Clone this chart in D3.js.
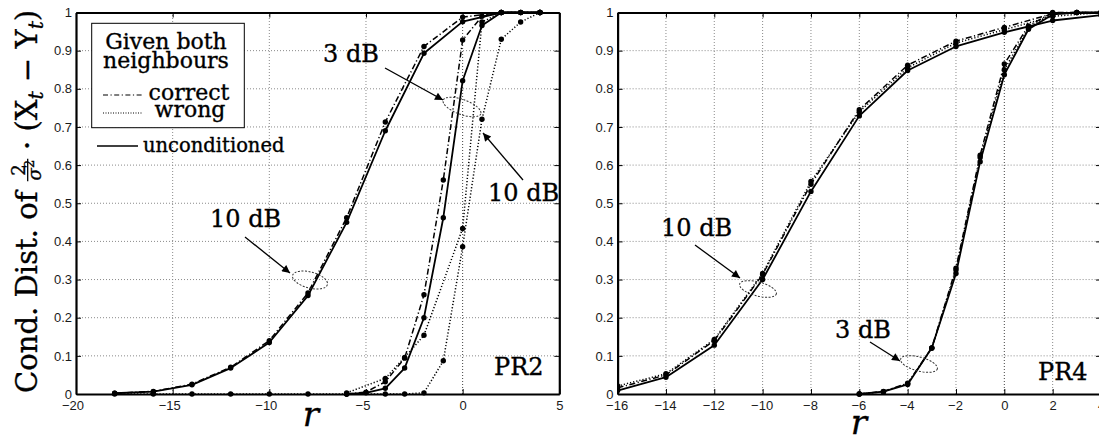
<!DOCTYPE html>
<html><head><meta charset="utf-8">
<script src="https://cdn.jsdelivr.net/npm/d3@7"></script>
<style>html,body{margin:0;padding:0;background:#fff;} svg{display:block}</style>
</head><body>
<svg id="c" width="1099" height="441"></svg>
<script>
// ---------- data ----------
const yTicks = [0, 0.1, 0.2, 0.3, 0.4, 0.5, 0.6, 0.7, 0.8, 0.9, 1];
const yTickLabels = ["0", "0.1", "0.2", "0.3", "0.4", "0.5", "0.6", "0.7", "0.8", "0.9", "1"];
const pr2XTicks = [-20, -15, -10, -5, 0, 5];
const pr4XTicks = [-16, -14, -12, -10, -8, -6, -4, -2, 0, 2, 4];

// PR2, 10 dB
const pr2_10_x = [-18, -16, -14, -12, -10, -8, -6, -4, -2, 0, 2, 4];
const pr2_10_uncond = [0.002, 0.006, 0.024, 0.068, 0.135, 0.258, 0.45, 0.69, 0.893, 0.976, 1.0, 1.0];
const pr2_10_correct = [0.002, 0.007, 0.026, 0.070, 0.140, 0.265, 0.462, 0.713, 0.911, 0.988, 1.0, 1.0];
const pr2_10_wrong_x = [-18, -16, -14, -12, -10, -8, -6, -4, -3, -2, -1, 0, 1, 2, 3, 4];
const pr2_10_wrong = [0, 0, 0, 0, 0, 0, 0, 0, 0, 0.003, 0.087, 0.386, 0.72, 0.93, 0.975, 1.0];
// PR2, 3 dB
const pr2_3_x = [-6, -5, -4, -3, -2, -1, 0, 1, 2, 3, 4];
const pr2_3_uncond = [0, 0.003, 0.015, 0.068, 0.20, 0.462, 0.821, 0.966, 1.0, 1.0, 1.0];
const pr2_3_correct = [0, 0.005, 0.032, 0.094, 0.26, 0.561, 0.928, 0.99, 1.0, 1.0, 1.0];
const pr2_3_wrong_x = [-6, -4, -3, -2, 0, 1, 2, 3, 4];
const pr2_3_wrong = [0.003, 0.041, 0.096, 0.154, 0.434, 0.975, 1.0, 1.0, 1.0];

// PR4, 10 dB
const pr4_10_x = [-16, -14, -12, -10, -8, -6, -4, -2, 0, 2, 4];
const pr4_10_uncond = [0.009, 0.044, 0.128, 0.30, 0.531, 0.729, 0.848, 0.911, 0.948, 0.979, 0.993];
const pr4_10_correct = [0.016, 0.05, 0.14, 0.313, 0.55, 0.745, 0.862, 0.925, 0.961, 0.997, 1.0];
const pr4_10_wrong = [0.021, 0.053, 0.143, 0.316, 0.557, 0.74, 0.855, 0.92, 0.955, 0.99, 1.0];
// PR4, 3 dB
const pr4_3_x = [-6, -5, -4, -3, -2, -1, 0, 1, 2, 3, 4];
const pr4_3_uncond = [0, 0.006, 0.025, 0.121, 0.316, 0.609, 0.837, 0.956, 0.995, 1.0, 1.0];
const pr4_3_correct = [0, 0.007, 0.028, 0.121, 0.33, 0.626, 0.865, 0.965, 1.0, 1.0, 1.0];
const pr4_3_wrong = [0, 0.006, 0.027, 0.12, 0.325, 0.62, 0.85, 0.96, 0.998, 1.0, 1.0];

const legendTitle = ["Given both", "neighbours"];
const legendItems = ["correct", "wrong", "unconditioned"];

// ---------- drawing ----------
const svg = d3.select("#c");
svg.append("rect").attr("width", 1099).attr("height", 441).attr("fill", "#fff");
const defs = svg.append("defs");
defs.append("marker").attr("id", "ah").attr("viewBox", "0 0 10 10").attr("refX", 10).attr("refY", 5)
  .attr("markerWidth", 11).attr("markerHeight", 8).attr("markerUnits", "userSpaceOnUse")
  .attr("orient", "auto").append("path").attr("d", "M0,0 L10,5 L0,10 z").attr("fill", "#000");

const SERIF = "'DejaVu Serif', serif";
const SANS = "'Liberation Sans', Arial, sans-serif";
const TXT_STROKE = 0.35;
const yTop = 12.5, yBot = 394;
const y = d3.scaleLinear().domain([0, 1]).range([yBot, yTop]);

const STY = {
  solid: { dash: null, w: 1.8 },
  dashdot: { dash: "6,2.5,1.2,2.5", w: 1.5 },
  dotted: { dash: "1.2,2", w: 1.5 }
};

function zip(xs, ys) { return xs.map((v, i) => [v, ys[i]]); }
function heavy(sel) { return sel.attr("stroke", "#000").attr("stroke-width", TXT_STROKE); }

function drawPanel(cfg) {
  const x = d3.scaleLinear().domain(cfg.domain).range([cfg.x0, cfg.x1]);
  const g = svg.append("g");
  const clipId = "clip" + cfg.id;
  defs.append("clipPath").attr("id", clipId).append("rect")
    .attr("x", cfg.x0).attr("y", yTop - 4).attr("width", cfg.x1 - cfg.x0).attr("height", yBot - yTop + 8);

  // grid
  const grid = g.append("g").attr("stroke", "#8a8a8a").attr("stroke-width", 1).attr("stroke-dasharray", "1,2");
  cfg.ticks.filter(t => t !== cfg.domain[0] && t !== cfg.domain[1]).forEach(t => {
    grid.append("line").attr("x1", x(t)).attr("x2", x(t)).attr("y1", yBot).attr("y2", yTop)
      .attr("stroke", t === 0 ? "#444" : null);
  });
  yTicks.filter(t => t !== 0 && t !== 1).forEach(t => {
    grid.append("line").attr("x1", cfg.x0).attr("x2", cfg.x1).attr("y1", y(t)).attr("y2", y(t));
  });

  // curves
  const line = d3.line().x(d => x(d[0])).y(d => y(d[1]));
  const cg = g.append("g").attr("clip-path", `url(#${clipId})`);
  const order = ["dotted", "dashdot", "solid"];
  order.forEach(st => {
    cfg.series.filter(s => s.style === st).forEach(s => {
      cg.append("path").datum(zip(s.x, s.y)).attr("d", line).attr("fill", "none")
        .attr("stroke", "#000").attr("stroke-width", STY[st].w)
        .attr("stroke-dasharray", STY[st].dash).attr("stroke-linejoin", "round");
    });
  });
  cfg.series.forEach(s => {
    cg.selectAll(null).data(zip(s.x, s.y)).enter().append("circle")
      .attr("cx", d => x(d[0])).attr("cy", d => y(d[1])).attr("r", 2.7).attr("fill", "#000");
  });

  // axes
  const fmtX = d => (d < 0 ? "\u2212" + Math.abs(d) : String(d));
  const ax = g.append("g").attr("transform", `translate(0,${yBot})`)
    .call(d3.axisBottom(x).tickValues(cfg.ticks).tickFormat(fmtX).tickSizeInner(-5).tickSizeOuter(0).tickPadding(7));
  ax.selectAll("text").attr("dx", d => (d < 0 ? cfg.negShift : 0));
  const at = g.append("g").attr("transform", `translate(0,${yTop})`)
    .call(d3.axisTop(x).tickValues(cfg.ticks).tickFormat("").tickSizeInner(-5).tickSizeOuter(0));
  const al = g.append("g").attr("transform", `translate(${cfg.x0},0)`)
    .call(d3.axisLeft(y).tickValues(yTicks).tickFormat((d, i) => yTickLabels[i]).tickSizeInner(-5).tickSizeOuter(0).tickPadding(4));
  const ar = g.append("g").attr("transform", `translate(${cfg.x1},0)`)
    .call(d3.axisRight(y).tickValues(yTicks).tickFormat("").tickSizeInner(-5).tickSizeOuter(0));
  [ax, at, al, ar].forEach(a => {
    a.attr("font-family", SANS).attr("font-size", 13);
    a.select(".domain").attr("stroke-width", 2.2).attr("stroke", "#000");
    a.selectAll(".tick line").attr("stroke", "#000").attr("stroke-width", 1);
    a.selectAll(".tick text").attr("fill", "#1a1a1a");
  });

  // x label
  heavy(g.append("text").attr("x", cfg.rx).attr("y", cfg.ry).attr("text-anchor", "middle")
    .attr("font-family", SERIF).attr("font-style", "italic").attr("font-size", 34).text("r"));

  // annotations
  cfg.notes.forEach(n => {
    heavy(g.append("text").attr("x", n.tx).attr("y", n.ty).attr("font-family", SERIF).attr("font-size", 24).text(n.text));
    if (n.a) {
      g.append("line").attr("x1", n.a[0]).attr("y1", n.a[1]).attr("x2", n.a[2]).attr("y2", n.a[3])
        .attr("stroke", "#000").attr("stroke-width", 1.3).attr("marker-end", "url(#ah)");
    }
    if (n.e) {
      g.append("ellipse").attr("cx", 0).attr("cy", 0).attr("rx", n.e[2]).attr("ry", n.e[3])
        .attr("transform", `translate(${n.e[0]},${n.e[1]}) rotate(${n.e[4]})`)
        .attr("fill", "none").attr("stroke", "#333").attr("stroke-width", 1).attr("stroke-dasharray", "2,1.5");
    }
  });
  return x;
}

drawPanel({
  id: "L", x0: 76, x1: 559.3, domain: [-20, 5], ticks: pr2XTicks, negShift: -3.5, rx: 311, ry: 426,
  series: [
    { x: pr2_10_x, y: pr2_10_uncond, style: "solid" },
    { x: pr2_10_x, y: pr2_10_correct, style: "dashdot" },
    { x: pr2_10_wrong_x, y: pr2_10_wrong, style: "dotted" },
    { x: pr2_3_x, y: pr2_3_uncond, style: "solid" },
    { x: pr2_3_x, y: pr2_3_correct, style: "dashdot" },
    { x: pr2_3_wrong_x, y: pr2_3_wrong, style: "dotted" }
  ],
  notes: [
    { text: "10 dB", tx: 210, ty: 227, a: [245, 237, 290, 273], e: [310, 280, 18, 8, 15] },
    { text: "3 dB", tx: 323, ty: 62, a: [385, 68, 443, 100], e: [462, 107, 20, 7.5, 20] },
    { text: "10 dB", tx: 488, ty: 201, a: [523, 180, 483, 133] },
    { text: "PR2", tx: 494, ty: 375 }
  ]
});

drawPanel({
  id: "R", x0: 617.6, x1: 1101, domain: [-16, 4], ticks: pr4XTicks, negShift: -1, rx: 859, ry: 434,
  series: [
    { x: pr4_10_x, y: pr4_10_uncond, style: "solid" },
    { x: pr4_10_x, y: pr4_10_correct, style: "dashdot" },
    { x: pr4_10_x, y: pr4_10_wrong, style: "dotted" },
    { x: pr4_3_x, y: pr4_3_uncond, style: "solid" },
    { x: pr4_3_x, y: pr4_3_correct, style: "dashdot" },
    { x: pr4_3_x, y: pr4_3_wrong, style: "dotted" }
  ],
  notes: [
    { text: "10 dB", tx: 661, ty: 236, a: [695, 245, 740, 278], e: [758, 289, 19, 7, 15] },
    { text: "3 dB", tx: 835, ty: 338, a: [870, 342, 900, 361], e: [919, 364, 19, 7, 15] },
    { text: "PR4", tx: 1038, ty: 380 }
  ]
});

// ---------- legend ----------
const lg = svg.append("g");
lg.append("rect").attr("x", 91.7).attr("y", 23.3).attr("width", 152.6).attr("height", 104.4)
  .attr("fill", "#fff").attr("stroke", "#000").attr("stroke-width", 1);
heavy(lg.append("text").attr("x", 166).attr("y", 49).attr("text-anchor", "middle").attr("font-family", SERIF).attr("font-size", 22).text(legendTitle[0]));
heavy(lg.append("text").attr("x", 166).attr("y", 68).attr("text-anchor", "middle").attr("font-family", SERIF).attr("font-size", 22).text(legendTitle[1]));
lg.append("line").attr("x1", 103).attr("x2", 142).attr("y1", 95).attr("y2", 95).attr("stroke", "#000")
  .attr("stroke-width", 1.2).attr("stroke-dasharray", "5,2.5,1.2,2.5");
heavy(lg.append("text").attr("x", 189).attr("y", 100).attr("text-anchor", "middle").attr("font-family", SERIF).attr("font-size", 22).text(legendItems[0]));
lg.append("line").attr("x1", 103).attr("x2", 142).attr("y1", 113).attr("y2", 113).attr("stroke", "#000")
  .attr("stroke-width", 1.2).attr("stroke-dasharray", "1,1.5");
heavy(lg.append("text").attr("x", 190).attr("y", 117).attr("text-anchor", "middle").attr("font-family", SERIF).attr("font-size", 22).text(legendItems[1]));
lg.append("line").attr("x1", 97).attr("x2", 138).attr("y1", 146).attr("y2", 146).attr("stroke", "#000").attr("stroke-width", 1.3);
heavy(lg.append("text").attr("x", 143).attr("y", 152).attr("font-family", SERIF).attr("font-size", 19.5).text(legendItems[2]));

// ---------- y label ----------
function buildYLabel(F) {
  const g = svg.append("g").attr("transform", "translate(37,393) rotate(-90)")
    .attr("font-family", SERIF).attr("fill", "#000").attr("stroke", "#000").attr("stroke-width", TXT_STROKE);
  let cx = 0;
  const t1 = g.append("text").attr("x", 0).attr("y", 0).attr("font-size", F).text("Cond. Dist. of");
  cx += t1.node().getComputedTextLength() + F * 0.35;
  const fs = F * 0.62;
  const num = g.append("text").attr("font-size", fs).text("2");
  const den = g.append("text").attr("font-size", fs);
  den.append("tspan").attr("font-style", "italic").text("\u03C3");
  den.append("tspan").attr("font-size", fs * 0.72).attr("dy", -fs * 0.38).text("2");
  const wn = num.node().getComputedTextLength(), wd = den.node().getComputedTextLength();
  const fw = Math.max(wn, wd) + 2;
  num.attr("x", cx + (fw - wn) / 2).attr("y", -F * 0.42);
  den.attr("x", cx + (fw - wd) / 2).attr("y", F * 0.14);
  g.append("line").attr("x1", cx).attr("x2", cx + fw).attr("y1", -F * 0.32).attr("y2", -F * 0.32)
    .attr("stroke", "#000").attr("stroke-width", 1.3);
  cx += fw + F * 0.3;
  const t2 = g.append("text").attr("x", cx).attr("y", 0).attr("font-size", F);
  t2.append("tspan").text("\u00B7 (X");
  t2.append("tspan").attr("font-size", F * 0.7).attr("font-style", "italic").attr("dy", F * 0.2).text("t");
  t2.append("tspan").attr("dy", -F * 0.2).text(" \u2212 Y");
  t2.append("tspan").attr("font-size", F * 0.7).attr("font-style", "italic").attr("dy", F * 0.2).text("t");
  t2.append("tspan").attr("dy", -F * 0.2).text(")");
  cx += t2.node().getComputedTextLength();
  return { g, len: cx };
}
const first = buildYLabel(22);
const F2 = 22 * 384 / first.len;
first.g.remove();
buildYLabel(F2);
</script>
</body></html>
